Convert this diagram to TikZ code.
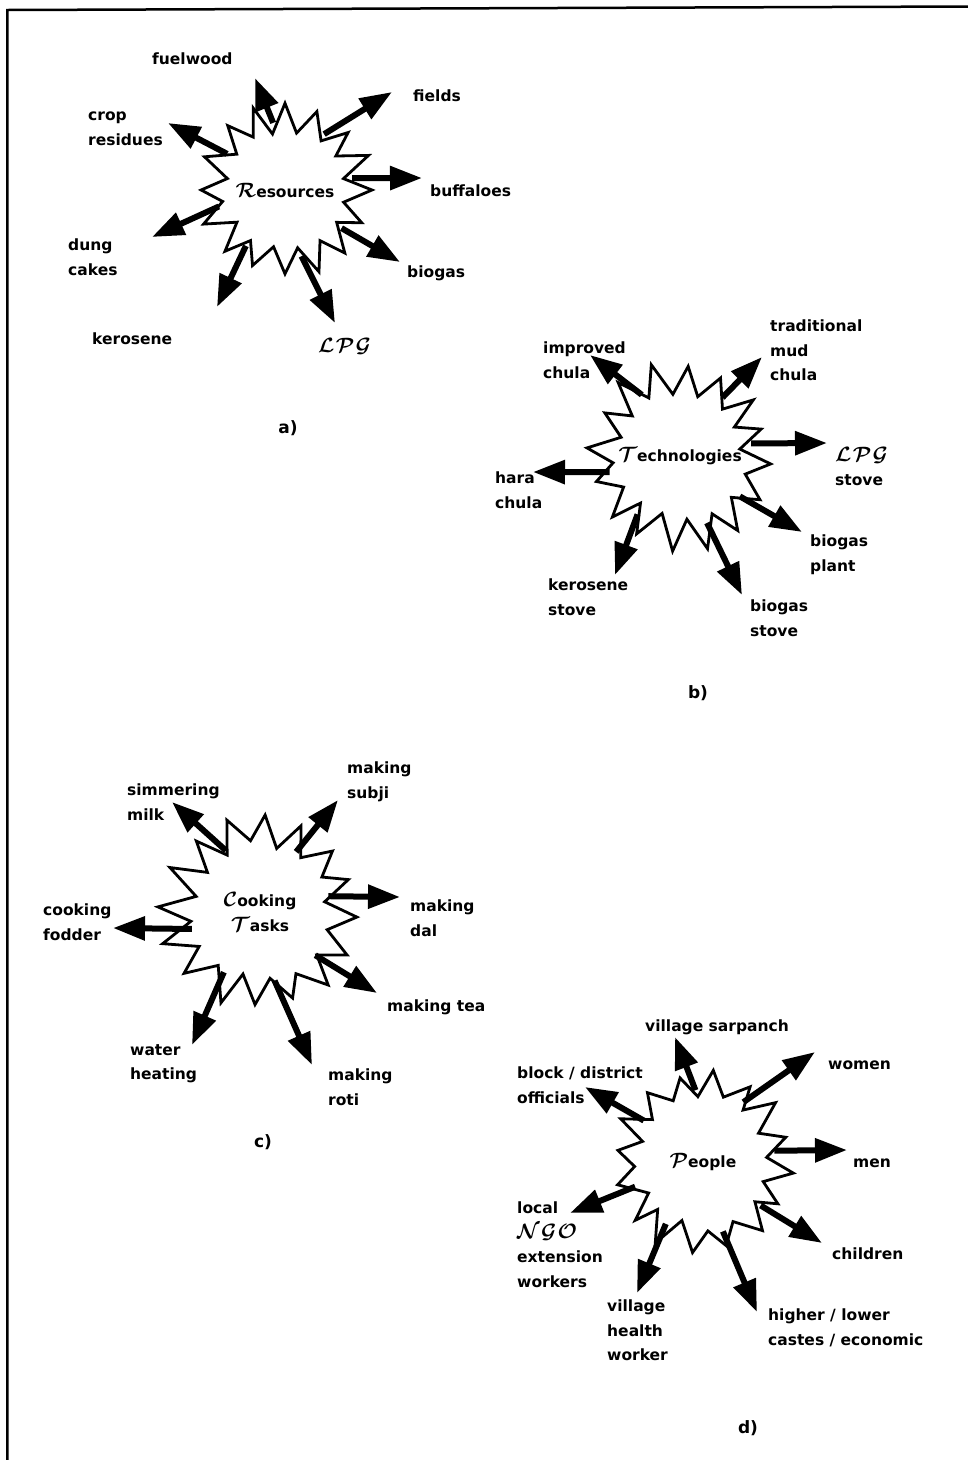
\documentclass[tikz,border=0pt]{standalone}
\usepackage{fontspec}
\setmainfont{DejaVu Sans}
\usetikzlibrary{arrows.meta}

\newcommand\lblfont{\fontsize{15.5}{24.5}\selectfont\bfseries}
\newcommand\lpg{{\fontsize{22}{22}\selectfont\boldmath$\mathcal{L}\mkern1mu\mathcal{P}\mkern1mu\mathcal{G}$}}
\newcommand\ngo{{\fontsize{22}{22}\selectfont\boldmath$\mathcal{N}\mkern1mu\mathcal{G}\mkern1mu\mathcal{O}$}}
\newcommand\scriptcap[1]{{\fontsize{20}{20}\selectfont\boldmath$\mathcal{#1}$}}

\tikzset{
  frame/.style={line width=2.5pt},
  burstline/.style={draw=black, line width=2.8pt, fill=white, line join=miter},
  hub/.style={circle, minimum size=#1, inner sep=0pt, align=center, font=\lblfont},
  spoke/.style={line width=6pt, -{Triangle[length=32pt,width=23pt]}},
  lbl/.style={anchor=north west, inner sep=0pt, align=left, font=\lblfont,
              execute at begin node=\rule{0pt}{12pt}},
  tag/.style={inner sep=0pt, font=\fontsize{17}{17}\selectfont\bfseries}
}

% 16-pointed burst: centre, outer radius, inner radius, start angle, seed
\newcommand\burst[5]{%
  \pgfmathsetseed{#5}%
  \begin{scope}[shift={(#1)}]
    \draw[burstline] (#4:#2)
      \foreach \k in {1,...,31} {
        -- ({#4+\k*11.25}:{(#3+(#2-#3)*(1-mod(\k,2)))*(0.93+0.14*rnd)})
      } -- cycle;
  \end{scope}}

\begin{document}
\begin{tikzpicture}[x=1pt,y=-1pt]
\useasboundingbox (0,0) rectangle (968,1460);
\draw[frame] (968,6.5) -- (7.3,10) -- (7.3,1460);

% ---------- a) Resources ----------
\burst{285,190}{87}{61}{0}{11}
\node[hub=136pt] (res) at (285,190) {\scriptcap{R}esources};
\coordinate (a-fuel)   at (255,78);
\coordinate (a-fields) at (392,92);
\coordinate (a-crop)   at (168,123);
\coordinate (a-buff)   at (422,178);
\coordinate (a-dung)   at (152,237);
\coordinate (a-bio)    at (400,262);
\coordinate (a-ker)    at (217,307);
\coordinate (a-lpg)    at (335,323);
\foreach \a/\t in {100/a-fuel, 55/a-fields, 148/a-crop, 10/a-buff,
                   194/a-dung, -34/a-bio, 235/a-ker, -76/a-lpg}
  \draw[spoke] (res.\a) -- (\t);
\node[lbl] (l-fuel)   at (152,52)  {fuelwood};
\node[lbl] (l-crop)   at (88,112)  {crop\\residues};
\node[lbl] (l-fields) at (413,89)  {fields};
\node[lbl] (l-buff)   at (430,184) {buffaloes};
\node[lbl] (l-dung)   at (68,239)  {dung\\cakes};
\node[lbl] (l-bio)    at (407,265) {biogas};
\node[lbl] (l-ker)    at (92,332)  {kerosene};
\node[lbl] (l-lpg)    at (318,338) {\lpg};
\node[tag] (tag-a)    at (288,428) {a)};

% ---------- b) Technologies ----------
\burst{680,456}{91}{64}{5}{23}
\node[hub=144pt] (tech) at (680,456) {\scriptcap{T}echnologies};
\coordinate (b-imp)  at (590,355);
\coordinate (b-trad) at (762,357);
\coordinate (b-lpg)  at (827,443);
\coordinate (b-hara) at (533,472);
\coordinate (b-bpl)  at (802,532);
\coordinate (b-bst)  at (742,595);
\coordinate (b-ker)  at (615,575);
\foreach \a/\t in {122/b-imp, 54/b-trad, 10/b-lpg, 193/b-hara,
                   -34/b-bpl, -68/b-bst, 234/b-ker}
  \draw[spoke] (tech.\a) -- (\t);
\node[lbl] (l-imp)  at (543,342) {improved\\chula};
\node[lbl] (l-trad) at (770,320) {traditional\\mud\\chula};
\node[lbl] (l-lpgs) at (835,447) {\lpg\\stove};
\node[lbl] (l-hara) at (495,472) {hara\\chula};
\node[lbl] (l-bpl)  at (810,535) {biogas\\plant};
\node[lbl] (l-kers) at (548,579) {kerosene\\stove};
\node[lbl] (l-bst)  at (750,600) {biogas\\stove};
\node[tag] (tag-b)  at (698,693) {b)};

% ---------- c) Cooking Tasks ----------
\burst{260,912}{97}{68}{3}{37}
\node[hub=140pt] (cook) at (260,912) {\scriptcap{C}ooking\\\scriptcap{T}asks};
\coordinate (c-sim)  at (172,802);
\coordinate (c-sub)  at (338,800);
\coordinate (c-dal)  at (400,897);
\coordinate (c-fod)  at (113,928);
\coordinate (c-tea)  at (377,993);
\coordinate (c-roti) at (312,1065);
\coordinate (c-wat)  at (192,1045);
\foreach \a/\t in {119/c-sim, 59/c-sub, 13/c-dal, 194/c-fod,
                   -38/c-tea, -78/c-roti, 239/c-wat}
  \draw[spoke] (cook.\a) -- (\t);
\node[lbl] (l-sim)  at (127,784)  {simmering\\milk};
\node[lbl] (l-sub)  at (347,762)  {making\\subji};
\node[lbl] (l-dal)  at (410,900)  {making\\dal};
\node[lbl] (l-fod)  at (43,904)   {cooking\\fodder};
\node[lbl] (l-tea)  at (387,999)  {making tea};
\node[lbl] (l-wat)  at (130,1044) {water\\heating};
\node[lbl] (l-roti) at (328,1069) {making\\roti};
\node[tag] (tag-c)  at (263,1142) {c)};

% ---------- d) People ----------
\burst{703,1162}{91}{65}{7}{51}
\node[hub=144pt] (ppl) at (703,1162) {\scriptcap{P}eople};
\coordinate (d-sar)  at (675,1037);
\coordinate (d-wom)  at (815,1052);
\coordinate (d-blk)  at (585,1087);
\coordinate (d-men)  at (847,1150);
\coordinate (d-ngo)  at (570,1213);
\coordinate (d-chi)  at (822,1243);
\coordinate (d-hea)  at (637,1293);
\coordinate (d-cas)  at (757,1312);
\foreach \a/\t in {96/d-sar, 56/d-wom, 145/d-blk, 9/d-men,
                   200/d-ngo, -37/d-chi, 239/d-hea, -74/d-cas}
  \draw[spoke] (ppl.\a) -- (\t);
\node[lbl] (l-sar) at (645,1019) {village sarpanch};
\node[lbl] (l-wom) at (828,1057) {women};
\node[lbl] (l-blk) at (517,1067) {block / district\\officials};
\node[lbl] (l-men) at (853,1155) {men};
\node[lbl] (l-ngo) at (517,1202) {local\\\ngo\\extension\\workers};
\node[lbl] (l-chi) at (832,1247) {children};
\node[lbl] (l-hea) at (607,1300) {village\\health\\worker};
\node[lbl] (l-cas) at (768,1309) {higher / lower\\castes / economic};
\node[tag] (tag-d) at (748,1428) {d)};
\end{tikzpicture}
\end{document}
